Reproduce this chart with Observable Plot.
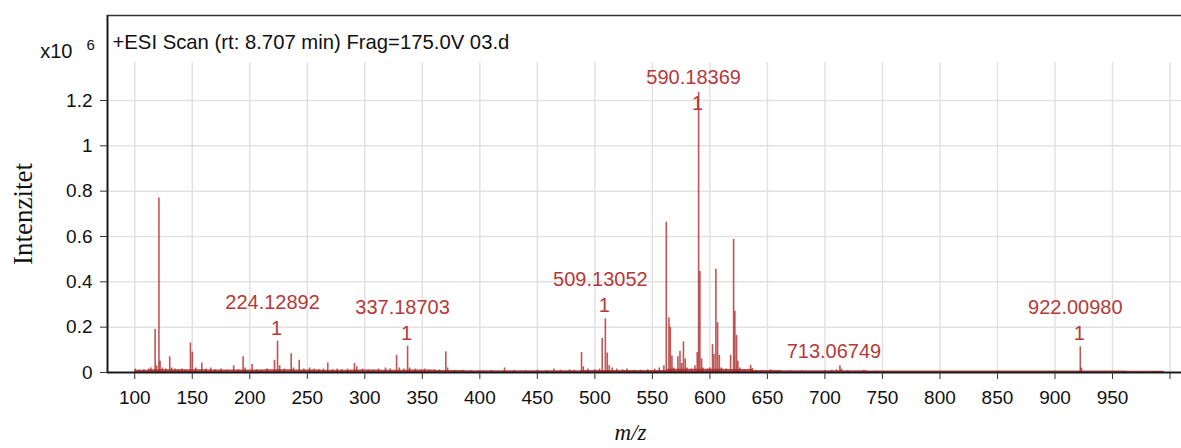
<!DOCTYPE html>
<html>
<head>
<meta charset="utf-8">
<script src="https://cdn.jsdelivr.net/npm/d3@7"></script>
<script src="https://cdn.jsdelivr.net/npm/@observablehq/plot@0.6"></script>
<style>
  html, body { margin: 0; padding: 0; background: #ffffff; }
  #chart svg { display: block; }
</style>
</head>
<body>
<div id="chart"></div>
<script>
// ---- Data (intensity in x10^6 counts) ----
const peakMz = [
  100.5, 104, 108, 112, 114, 117.7, 119, 121, 122, 124, 127, 130.4, 132, 135, 138, 141, 144,
  148.4, 150, 153, 158.3, 162, 166, 170, 175, 180, 186, 190, 194.2, 196, 202, 206, 210, 215,
  221.5, 224.12892, 226, 230, 236, 238, 243, 247, 252, 256, 260, 264, 267.8, 272, 276, 280,
  285, 291, 293, 298, 303, 307, 312, 318, 322, 327.6, 330, 334, 337.18703, 339, 344, 349,
  352, 356, 361, 365, 370.4, 372, 378, 385, 392, 400, 410, 421.5, 430, 440, 450, 458, 464.4,
  470, 478, 482, 488.4, 490, 494, 500, 504, 506.4, 509.13052, 510.8, 512.5, 515, 519, 524,
  528, 534, 540, 546, 552, 556, 560, 562.1, 564.4, 565.6, 567, 568.5, 572.2, 574, 575.5, 577,
  578.6, 580, 584, 587, 589, 590.18369, 591.3, 592.8, 594, 598, 600, 602.3, 603.5, 605.2,
  606.7, 608.2, 610, 614, 618, 620.6, 621.7, 623.2, 624.3, 626, 630, 635.4, 637, 640, 645,
  652.8, 660, 670, 680, 700, 706, 710, 713.06749, 714.5, 720, 734, 745, 922.0098, 923
];
const peakIntensity = [
  0.015, 0.010, 0.012, 0.015, 0.020, 0.190, 0.030, 0.770, 0.050, 0.020, 0.015, 0.069, 0.020, 0.015, 0.012, 0.015, 0.010,
  0.130, 0.090, 0.020, 0.042, 0.015, 0.020, 0.012, 0.015, 0.010, 0.030, 0.012, 0.069, 0.020, 0.035, 0.012, 0.010, 0.015,
  0.054, 0.138, 0.030, 0.015, 0.083, 0.020, 0.054, 0.015, 0.020, 0.015, 0.012, 0.015, 0.042, 0.012, 0.015, 0.012,
  0.015, 0.040, 0.025, 0.015, 0.012, 0.010, 0.015, 0.020, 0.015, 0.076, 0.020, 0.015, 0.116, 0.020, 0.015, 0.010,
  0.015, 0.010, 0.010, 0.012, 0.091, 0.020, 0.010, 0.010, 0.008, 0.008, 0.010, 0.020, 0.010, 0.008, 0.010, 0.008, 0.015,
  0.010, 0.012, 0.010, 0.088, 0.025, 0.015, 0.012, 0.015, 0.150, 0.237, 0.086, 0.030, 0.020, 0.015, 0.012,
  0.015, 0.010, 0.010, 0.012, 0.015, 0.020, 0.030, 0.663, 0.242, 0.200, 0.073, 0.020, 0.069, 0.094, 0.040, 0.135,
  0.060, 0.020, 0.015, 0.030, 0.088, 1.236, 0.446, 0.060, 0.020, 0.015, 0.020, 0.123, 0.079, 0.455,
  0.220, 0.076, 0.020, 0.015, 0.076, 0.587, 0.270, 0.164, 0.050, 0.020, 0.012, 0.032, 0.018, 0.010, 0.008,
  0.012, 0.008, 0.008, 0.008, 0.008, 0.010, 0.012, 0.030, 0.015, 0.008, 0.010, 0.006, 0.113, 0.020
];

// noise floor read along the baseline
const noiseMz    = [100, 125, 150, 175, 200, 225, 250, 275, 300, 325, 350, 375, 400, 425, 450, 475, 500, 525, 550, 575, 600, 625, 650, 675, 700, 725, 750, 775, 800, 825, 850, 875, 900, 925, 950, 975, 995];
const noiseLevel = [0.010, 0.012, 0.012, 0.011, 0.011, 0.012, 0.011, 0.010, 0.011, 0.010, 0.011, 0.009, 0.008, 0.008, 0.008, 0.008, 0.009, 0.009, 0.009, 0.014, 0.014, 0.013, 0.009, 0.008, 0.008, 0.008, 0.007, 0.007, 0.007, 0.007, 0.007, 0.007, 0.007, 0.007, 0.007, 0.006, 0.006];

// annotated peaks
const labelMz        = [224.12892, 337.18703, 509.13052, 590.18369, 713.06749, 922.0098];
const labelIntensity = [0.138, 0.116, 0.237, 1.236, 0.030, 0.113];
const labelText      = ["224.12892", "337.18703", "509.13052", "590.18369", "713.06749", "922.00980"];
const labelCharge    = ["1", "1", "1", "1", "", "1"];

// axes
const xTicks = [100, 150, 200, 250, 300, 350, 400, 450, 500, 550, 600, 650, 700, 750, 800, 850, 900, 950, 1000];
const xTickLabels = ["100", "150", "200", "250", "300", "350", "400", "450", "500", "550", "600", "650", "700", "750", "800", "850", "900", "950", ""];
const yTicks = [0, 0.2, 0.4, 0.6, 0.8, 1, 1.2];
const yTickLabels = ["0", "0.2", "0.4", "0.6", "0.8", "1", "1.2"];

const titleText = "+ESI Scan (rt: 8.707 min) Frag=175.0V 03.d";
const yLabel = "Intenzitet";
const xLabel = "m/z";

// ---- Build tables ----
const peaks = peakMz.map((mz, i) => ({mz, intensity: peakIntensity[i]}));
const noise = noiseMz.map((mz, i) => ({mz, level: noiseLevel[i]}));
const labels = labelMz.map((mz, i) => ({mz, intensity: labelIntensity[i], text: labelText[i], charge: labelCharge[i]}));

const xDomain = [76.3, 1010];
const yDomain = [0, 1.575];
const gridTop = 1.368;
const labelCap = 1.13;

const red = "#b02a2a";
const labelColor = "#b43a3a";
const sans = "'Liberation Sans', Arial, Helvetica, sans-serif";
const serif = "'Liberation Serif', 'Times New Roman', serif";

const xFmt = d => xTickLabels[xTicks.indexOf(d)];
const yFmt = d => yTickLabels[yTicks.indexOf(d)];

const chart = Plot.plot({
  width: 1181,
  height: 448,
  marginTop: 15,
  marginBottom: 76,
  marginLeft: 107,
  marginRight: 0,
  x: {domain: xDomain},
  y: {domain: yDomain},
  style: {fontFamily: sans, background: "#ffffff", color: "#111"},
  marks: [
    // grid
    Plot.ruleX(xTicks, {y1: 0, y2: gridTop, stroke: "#e2e2e2", strokeWidth: 1.5}),
    Plot.ruleY(yTicks.filter(d => d > 0), {stroke: "#e2e2e2", strokeWidth: 1.5}),
    // noise floor
    Plot.areaY(noise, {x: "mz", y: "level", fill: red, fillOpacity: 0.85, curve: "step"}),
    // peaks
    Plot.ruleX(peaks, {x: "mz", y1: 0, y2: "intensity", stroke: red, strokeWidth: 1.6, strokeOpacity: 0.8}),
    // frame lines
    Plot.ruleY([0], {stroke: "#1a1a1a", strokeWidth: 2.2}),
    Plot.ruleX([xDomain[0]], {stroke: "#1a1a1a", strokeWidth: 2}),
    Plot.ruleY([yDomain[1]], {stroke: "#333", strokeWidth: 1.6}),
    // axes
    Plot.axisX({ticks: xTicks, tickFormat: xFmt, tickSize: 7, tickPadding: 11, fontSize: 19, label: null, stroke: "#333"}),
    Plot.axisY({ticks: yTicks, tickFormat: yFmt, tickSize: 7, tickPadding: 8, fontSize: 19, label: null, stroke: "#333"}),
    // peak annotations
    Plot.text(labels.filter(d => d.charge), {x: "mz", y: d => Math.min(d.intensity, labelCap), text: "text", dx: -5, dy: -39, fill: labelColor, fontSize: 20}),
    Plot.text(labels.filter(d => d.charge), {x: "mz", y: d => Math.min(d.intensity, labelCap), text: "charge", dx: -1, dy: -13, fill: labelColor, fontSize: 20}),
    Plot.text(labels.filter(d => !d.charge), {x: "mz", y: "intensity", text: "text", dx: -6, dy: -14, fill: labelColor, fontSize: 20}),
    // title and exponent
    Plot.text([titleText], {frameAnchor: "top-left", textAnchor: "start", lineAnchor: "middle", dx: 5, dy: 27, fontSize: 20.3, fill: "#111"}),
    Plot.text(["x10"], {frameAnchor: "top-left", textAnchor: "end", lineAnchor: "middle", dx: -35, dy: 36, fontSize: 20, fill: "#111"}),
    Plot.text(["6"], {frameAnchor: "top-left", textAnchor: "start", lineAnchor: "middle", dx: -21, dy: 30, fontSize: 15, fill: "#111"}),
    // axis labels
    Plot.text([yLabel], {frameAnchor: "left", textAnchor: "middle", lineAnchor: "middle", rotate: -90, dx: -84, dy: 20, fontSize: 27, fontFamily: serif, fill: "#111"}),
    Plot.text([xLabel], {frameAnchor: "bottom", textAnchor: "middle", lineAnchor: "middle", dx: -14, dy: 60, fontSize: 23, fontFamily: serif, fontStyle: "italic", fill: "#111"})
  ]
});

document.getElementById("chart").appendChild(chart);
</script>
</body>
</html>
